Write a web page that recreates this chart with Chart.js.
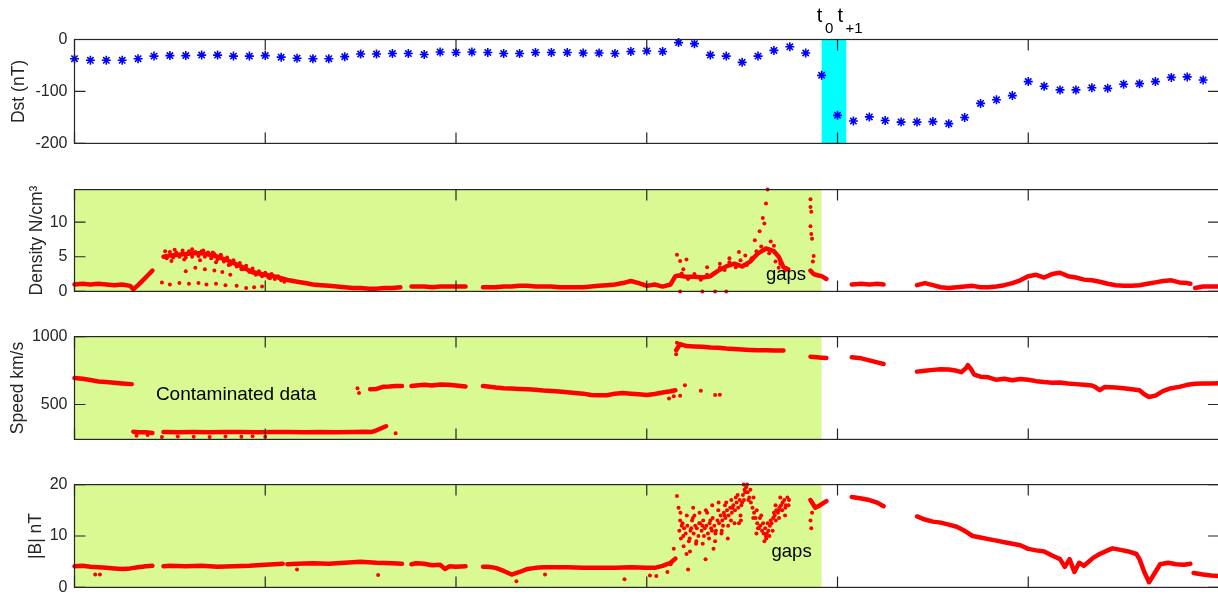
<!DOCTYPE html>
<html>
<head>
<meta charset="utf-8">
<script src="https://cdn.jsdelivr.net/npm/chart.js@4.4.1/dist/chart.umd.min.js"></script>
<style>
  html, body { margin: 0; padding: 0; background: #fff; overflow: hidden; width: 1218px; height: 594px; }
  canvas { position: absolute; left: 0; }
</style>
</head>
<body>
<canvas id="dst"></canvas>
<canvas id="dens"></canvas>
<canvas id="speed"></canvas>
<canvas id="bmag"></canvas>
<script>
// ---- data (hours from start of window) ----
const hourTicks = [0, 12, 24, 36, 48, 60, 72];

// hourly Dst, one value per hour starting at 0
const dstValues = [-37, -40, -40, -40, -37, -32, -31, -31, -30, -30, -32, -32, -31, -34, -36, -37, -37, -33, -28, -28, -27, -27,
  -29, -24, -25, -24, -25, -27, -27, -25, -25, -25, -26, -26, -27, -23, -22, -23, -6, -8, -30, -32, -44, -32, -21, -14, -26, -69,
  -146, -157, -149, -156, -159, -159, -158, -162, -150, -123, -116, -108, -81, -90, -97, -97, -93, -94, -86, -85, -81, -73, -72, -78];
const dstTicks = [-200, -100, 0];

// density, null = data gap
const densTime = [0, 0.5, 1, 1.5, 2, 2.5, 3, 3.5, 3.7, 4, 4.3, 4.6, 4.9, 5.2,
  5.6, 6, 6.5, 7, 7.5, 8, 8.5, 9, 9.5, 10, 10.5, 11, 11.5, 12, 12.5, 13, 13.5, 14, 14.5, 15, 15.5, 16, 16.5, 17, 17.5, 18, 18.5, 19, 19.5, 20, 20.5, 20.9,
  21.2, 21.5, 22, 22.5, 23, 23.5, 24, 24.6, 25.2,
  25.7, 26, 26.5, 27, 27.5, 28, 28.5, 29, 29.5, 30, 30.5, 31, 31.5, 32, 32.5, 33, 33.5, 34, 34.5, 35, 35.5, 36, 36.5, 37, 37.5, 37.8, 38, 38.5, 39, 39.5, 40, 40.5, 41, 41.5, 42, 42.5, 43, 43.5, 44, 44.3, 44.6, 44.9, 45.6,
  46.3, 46.5, 46.8, 47, 47.3, 48,
  48.9, 49.5, 50, 50.5, 50.9, 52,
  53, 53.5, 54, 54.5, 55, 55.5, 56, 56.5, 57, 57.5, 58, 58.5, 59, 59.5, 60, 60.5, 61, 61.5, 62, 62.5, 63, 63.5, 64, 64.5, 65, 65.5, 66, 66.5, 67, 67.5, 68, 68.5, 69, 69.5, 70, 70.2, 70.35,
  70.5, 71, 71.5, 72];
const densValue = [1.0, 1.1, 1.0, 1.1, 1.0, 0.9, 1.0, 0.8, 0.3, 0.9, 1.6, 2.3, 3.0, null,
  5.0, 5.2, 5.3, 5.4, 5.5, 5.5, 5.3, 5.0, 4.6, 4.1, 3.6, 3.0, 2.6, 2.4, 2.2, 1.9, 1.6, 1.4, 1.2, 1.0, 0.9, 0.8, 0.7, 0.6, 0.5, 0.5, 0.4, 0.4, 0.5, 0.5, 0.6, null,
  0.7, 0.7, 0.7, 0.6, 0.7, 0.7, 0.7, 0.7, null,
  0.6, 0.6, 0.6, 0.7, 0.7, 0.8, 0.8, 0.7, 0.7, 0.7, 0.6, 0.6, 0.6, 0.6, 0.7, 0.8, 0.9, 1.0, 1.2, 1.5, 1.2, 0.8, 1.0, 0.7, 1.0, 2.2, 2.3, 2.1, 2.1, 2.0, 2.2, 3.0, 3.6, 4.0, 3.6, 4.3, 5.5, 6.2, 5.8, 5.0, 3.5, 3.2, null,
  3.0, 2.5, 2.3, 2.2, 1.8, null,
  1.0, 1.1, 1.0, 1.1, 1.0, null,
  0.9, 1.2, 0.9, 0.6, 0.5, 0.6, 0.7, 0.8, 0.6, 0.6, 0.7, 0.9, 1.2, 1.6, 2.2, 2.4, 2.0, 2.5, 2.7, 2.2, 2.0, 1.7, 1.6, 1.4, 1.1, 0.9, 0.8, 0.8, 0.9, 1.1, 1.3, 1.5, 1.6, 1.3, 1.2, 1.1, null,
  0.5, 0.7, 0.7, 0.7];
const densSpreadTime = [5.5, 6, 6.6, 7.2, 7.8, 8.3, 8.9, 9.5, 10.2, 10.8, 11.3, 11.8,
  7.0, 7.6, 8.2, 8.8, 9.3, 9.8,
  5.7, 6.3, 6.8, 7.4, 8.1, 8.7, 9.2, 6.1, 6.9, 7.9, 8.9, 9.7, 10.5, 11.2, 12.3, 13.2,
  5.8, 6.0, 6.2, 6.4, 6.6, 6.8, 7.0, 7.2, 7.4, 7.6, 7.8, 8.0, 8.2, 8.4, 8.6, 8.8, 9.0, 9.2, 9.4, 9.6, 9.8,
  10.0, 10.2, 10.4, 10.6, 10.8, 11.0, 11.2, 11.4, 11.6, 11.8, 12.0, 12.2, 12.4, 12.6, 12.8, 13.0,
  37.9, 38.1, 38.5, 38.3, 38.1, 39.5, 40.3, 41.0,
  38.2, 38.6, 39.0, 39.4, 39.8, 40.2, 40.6, 40.9, 41.2, 41.6, 41.9, 42.3, 42.6, 42.9, 43.2, 43.7, 44.0, 44.4, 44.7,
  42.8, 43.1, 43.3, 43.5, 43.6, 43.4, 43.8, 41.8, 42.2, 44.1, 44.3, 39.8, 40.6, 41.2,
  46.3, 46.3, 46.35, 46.3, 46.35, 46.4, 46.5, 46.45];
const densSpreadValue = [1.3, 1.0, 1.2, 1.1, 1.2, 1.0, 1.1, 0.9, 0.8, 0.5, 0.6, 0.7,
  2.9, 3.4, 3.2, 3.0, 2.8, 2.4,
  5.8, 6.0, 5.9, 6.1, 5.9, 5.6, 5.2, 4.4, 4.6, 4.5, 4.2, 3.8, 3.2, 2.7, 1.9, 1.4,
  4.8, 5.7, 4.9, 5.6, 5.0, 5.5, 4.9, 5.8, 5.0, 5.7, 5.1, 5.8, 5.0, 5.6, 4.8, 5.4, 4.6, 5.3, 4.3, 4.9, 3.9,
  4.5, 3.6, 4.1, 3.2, 3.7, 2.8, 3.3, 2.4, 2.9, 2.2, 2.7, 2.0, 2.5, 1.8, 2.2, 1.6,
  5.3, 4.4, 4.6, 3.2, 0.0, 0.0, 0.0, 0.0,
  2.6, 1.8, 2.5, 1.7, 2.4, 2.6, 3.4, 3.1, 4.2, 3.5, 4.5, 3.8, 4.8, 5.8, 6.5, 5.5, 6.6, 4.0, 3.0,
  7.4, 8.7, 10.6, 12.7, 14.7, 9.8, 7.2, 5.7, 5.2, 4.3, 3.4, 3.5, 4.0, 4.8,
  13.3, 12.2, 11.5, 9.4, 8.3, 7.6, 5.1, 4.3];
const densTicks = [0, 5, 10];

// solar wind speed
const speedTime = [0, 0.5, 1, 1.5, 2, 2.5, 3, 3.6, 3.65,
  3.7, 4, 4.5, 4.9, 5.2,
  5.6, 6.5, 7.5, 8.5, 9.5, 10.5, 11.5, 12.5, 13.5, 14.5, 15.5, 16.5, 17.5, 18.3, 18.7, 18.9, 19.3, 19.6, 19.7,
  18.6, 19, 19.4, 19.8, 20.2, 20.6, 20.9,
  21.2, 21.5, 22, 22.5, 23, 23.5, 24, 24.6, 25.2,
  25.7, 26, 26.5, 27, 27.5, 28, 28.5, 29, 29.5, 30, 30.5, 31, 31.5, 32, 32.5, 33, 33.5, 34, 34.5, 35, 35.5, 36, 36.5, 37, 37.5, 37.8, 37.8,
  37.85, 38.1, 38.5, 39, 39.5, 40, 40.5, 41, 41.5, 42, 42.5, 43, 43.5, 44, 44.6, 45,
  46.3, 46.7, 47, 47.3, 48,
  48.9, 49.5, 50, 50.5, 50.9, 52,
  53, 53.5, 54, 54.5, 55, 55.5, 55.8, 56.1, 56.2, 56.4, 56.6, 57, 57.5, 58, 58.5, 59, 59.5, 60, 60.5, 61, 61.5, 62, 62.5, 63, 63.5, 64, 64.2, 64.5, 64.8, 65.5, 66, 66.5, 67, 67.3, 67.6, 68, 68.5, 69, 69.5, 70, 70.5, 71, 71.5, 72];
const speedValue = [695, 690, 680, 670, 665, 660, 655, 650, null,
  300, 295, 295, 290, null,
  297, 296, 297, 296, 297, 298, 296, 297, 298, 296, 297, 295, 297, 300, 298, 305, 325, 340, null,
  612, 615, 630, 632, 636, 636, null,
  636, 640, 645, 640, 648, 645, 640, 632, null,
  636, 632, 625, 620, 618, 615, 612, 608, 603, 600, 596, 590, 585, 580, 570, 568, 568, 580, 585, 580, 575, 570, 578, 588, 598, 605, null,
  900, 945, 930, 928, 925, 920, 918, 912, 908, 905, 902, 900, 900, 898, 898, null,
  852, 848, 845, 842, null,
  848, 840, 825, 810, 798, null,
  742, 748, 755, 760, 758, 748, 738, 770, 790, 760, 720, 705, 700, 682, 690, 678, 688, 682, 672, 665, 660, 662, 655, 650, 645, 640, 630, 605, 628, 625, 620, 612, 605, 575, 555, 565, 600, 620, 630, 645, 652, 655, 655, 656];
const speedSpreadTime = [3.9, 4.6, 5.5, 6.5, 7.5, 8.5, 9.5, 10.5, 11.2, 12, 17.8, 17.9, 20.2, 37.4, 37.7, 37.85, 37.9, 38.1, 38.4, 39.4, 40.3, 40.6];
const speedSpreadValue = [270, 275, 260, 265, 262, 260, 264, 262, 266, 262, 620, 585, 289, 545, 560, 870, 955, 565, 641, 601, 570, 572];
const speedTicks = [500, 1000];

// |B|
const bTime = [0, 0.5, 1, 1.5, 2, 2.5, 3, 3.5, 4, 4.5, 4.9, 5.2,
  5.6, 6, 7, 8, 9, 10, 11, 12, 13.1, 13.25,
  13.4, 14, 15, 16, 17, 18, 19, 20, 20.6, 20.9,
  21.2, 21.5, 22, 22.5, 23, 23.3, 23.6, 24, 24.6, 25.2,
  25.7, 26, 26.5, 27, 27.5, 28, 28.5, 29, 29.5, 30, 31, 32, 33, 34, 35, 36, 36.5, 37, 37.5, 37.8, 38,
  46.3, 46.6, 46.9, 47.3, 48,
  48.9, 49.5, 50, 50.5, 50.9, 52,
  53, 53.5, 54, 54.5, 55, 55.5, 56, 56.5, 57, 57.5, 58, 58.5, 59, 59.5, 60, 60.5, 61, 61.5, 62, 62.3, 62.6, 62.9, 63.2, 63.5, 63.8, 64.1, 64.5, 65, 65.3, 65.8, 66.3, 66.8, 67, 67.3, 67.6, 67.9, 68.3, 68.8, 69.3, 69.8, 70.2, 70.3,
  70.4, 71, 71.5, 72];
const bValue = [4.1, 4.2, 4.0, 3.9, 3.8, 3.7, 3.6, 3.7, 3.9, 4.1, 4.2, null,
  4.1, 4.2, 4.1, 4.2, 4.0, 4.1, 4.2, 4.4, 4.6, null,
  4.5, 4.6, 4.7, 4.6, 4.8, 5.0, 4.8, 4.7, 4.6, null,
  4.5, 4.7, 4.6, 4.3, 4.4, 3.6, 4.1, 4.0, 4.1, null,
  4.0, 4.0, 3.8, 3.2, 2.5, 3.0, 3.6, 3.8, 3.9, 3.9, 3.9, 3.8, 3.8, 3.8, 3.9, 3.8, 3.8, 4.2, 4.8, 5.6, null,
  17.0, 15.5, 16.0, 16.8, null,
  17.6, 17.3, 17.0, 16.5, 15.8, null,
  13.8, 13.2, 12.8, 12.6, 12.2, 11.8, 11.0, 10.0, 9.7, 9.4, 9.1, 8.8, 8.5, 8.2, 7.5, 7.2, 7.0, 6.2, 5.5, 4.0, 5.5, 3.0, 4.8, 4.2, 5.0, 5.8, 6.5, 7.2, 7.6, 7.3, 7.0, 6.5, 5.5, 3.0, 1.0, 2.5, 4.5, 4.8, 4.5, 4.4, 4.6, null,
  2.8, 2.5, 2.3, 2.2];
// scattered |B| samples, mostly the disturbed interval before t0
const bSpreadTime = [37.7, 37.9, 38.0, 38.1, 38.3, 38.5, 38.7, 38.9, 39.1, 39.3, 39.6, 39.8, 40.1, 40.3, 40.5, 40.8, 41.0, 41.3, 41.6, 41.9, 42.1, 42.4, 42.7, 42.9, 43.2, 43.5, 43.8, 44.1, 44.4, 44.7,
  38.6, 39.7, 40.2, 41.1, 43.4, 46.35, 46.3, 46.4,
  38.2, 38.8, 39.0, 39.5, 40.0, 40.7, 41.4, 41.8, 42.2, 43.0, 43.6, 44.0, 44.3, 42.0, 40.9,
  38.05, 38.15, 38.25, 38.35, 38.45, 38.55, 38.65, 38.75, 38.85, 38.95, 39.05, 39.15, 39.25, 39.35, 39.45, 39.55, 39.65, 39.75, 39.85, 39.95,
  40.05, 40.15, 40.25, 40.35, 40.45, 40.55, 40.65, 40.75, 40.85, 40.95, 41.05, 41.15, 41.25, 41.35, 41.45, 41.55, 41.65, 41.75, 41.85, 41.95,
  42.05, 42.15, 42.25, 42.35, 42.45, 42.55, 42.65, 42.75, 42.85, 42.95, 43.05, 43.15, 43.25, 43.35, 43.45, 43.55, 43.65, 43.75, 43.85, 43.95,
  44.05, 44.15, 44.25, 44.35, 44.45, 44.55, 44.65, 44.75, 44.85, 44.95,
  38.12, 38.32, 38.52, 38.72, 38.92, 39.12, 39.32, 39.52, 39.72, 39.92, 40.12, 40.32, 40.52, 40.72, 40.92, 41.12, 41.32, 41.52, 41.72, 41.92,
  42.12, 42.32, 42.52, 42.72, 42.92, 43.12, 43.32, 43.52, 43.72, 43.92, 44.12, 44.32, 44.52, 44.72, 44.92,
  1.3, 1.6, 14.0, 19.1, 27.8, 29.6, 34.6, 36.2, 36.6, 37.3, 37.5];
const bSpreadValue = [7.5, 17.8, 15.5, 13.0, 10.0, 6.5, 9.5, 13.5, 8.5, 12.5, 10.0, 14.5, 11.0, 9.0, 15.0, 12.0, 16.5, 13.0, 17.5, 14.0, 20.0, 17.0, 13.5, 10.5, 14.0, 10.0, 13.0, 16.0, 17.5, 14.0,
  3.5, 5.5, 7.5, 9.5, 9.0, 11.5, 13.0, 14.5,
  12.0, 11.5, 14.0, 12.0, 13.0, 10.5, 15.5, 12.5, 18.5, 11.5, 12.5, 14.5, 15.0, 16.5, 14.0,
  11.0, 9.5, 12.5, 11.5, 10.5, 12.0, 9.0, 11.0, 13.0, 10.5, 12.0, 11.5, 10.0, 12.5, 11.0, 13.0, 11.5, 12.0, 10.5, 12.5,
  11.5, 13.5, 12.0, 11.0, 13.0, 12.5, 14.0, 13.0, 14.5, 13.5, 15.0, 14.0, 15.5, 14.5, 16.0, 15.0, 16.5, 15.5, 17.0, 16.0,
  18.0, 19.0, 19.5, 18.5, 17.5, 16.5, 15.5, 14.5, 13.5, 12.5, 11.5, 12.0, 11.0, 10.5, 11.5, 10.5, 11.0, 12.0, 12.5, 13.5,
  14.0, 15.0, 14.5, 15.5, 16.0, 16.5, 17.0, 16.0, 17.5, 17.0,
  14.5, 8.0, 14.0, 7.0, 15.5, 9.0, 14.5, 8.5, 15.0, 9.5, 16.0, 10.5, 16.5, 11.0, 16.0, 12.0, 17.0, 12.5, 18.0, 13.0,
  17.0, 20.0, 19.0, 17.5, 15.0, 13.5, 12.5, 9.5, 10.0, 11.0, 13.0, 13.5, 15.0, 15.5, 16.0,
  2.5, 2.5, 3.5, 2.4, 1.2, 2.5, 1.6, 2.3, 2.2, 3.0, 4.5];
const bTicks = [0, 10, 20];

// hours: t0 -> t+1 storm onset window, and end of contaminated interval
const onsetStart = 47, onsetEnd = 48.55;
const contaminatedEnd = 47;

// ---- layout ----
const FONT = "'Liberation Sans', Arial, sans-serif";
const AXIS = '#262626';
const plotH = 106.5;
const panelTops = [39.5, 187.2, 334.9, 482.6];

const pairs = (ts, vs) => ts.map((t, i) => ({ x: t, y: vs[i] }));

const framePlugin = {
  id: 'frame',
  beforeDatasetsDraw(chart, args, opts) {
    const { ctx, chartArea: a, scales: { x } } = chart;
    (opts.bands || []).forEach(b => {
      const x0 = x.getPixelForValue(b.from), x1 = x.getPixelForValue(b.to);
      ctx.fillStyle = b.color;
      ctx.fillRect(x0, a.top, x1 - x0, a.bottom - a.top);
    });
  },
  afterDraw(chart, args, opts) {
    const { ctx, chartArea: a, scales: { x, y } } = chart;
    ctx.save();
    ctx.strokeStyle = AXIS;
    ctx.lineWidth = 1.2;
    ctx.strokeRect(a.left, a.top, a.right - a.left, a.bottom - a.top);
    ctx.beginPath();
    hourTicks.forEach(h => {
      const px = x.getPixelForValue(h);
      ctx.moveTo(px, a.top); ctx.lineTo(px, a.top + 11);
      ctx.moveTo(px, a.bottom); ctx.lineTo(px, a.bottom - 11);
    });
    y.ticks.forEach(t => {
      const py = y.getPixelForValue(t.value);
      ctx.moveTo(a.left, py); ctx.lineTo(a.left + 11, py);
      ctx.moveTo(a.right, py); ctx.lineTo(a.right - 11, py);
    });
    ctx.stroke();

    ctx.fillStyle = '#000';
    ctx.textBaseline = 'alphabetic';
    (opts.notes || []).forEach(n => {
      ctx.font = n.size + 'px ' + FONT;
      ctx.fillText(n.text, x.getPixelForValue(n.x), y.getPixelForValue(n.y));
    });
    // t0 / t+1 markers above the Dst panel
    (opts.steps || []).forEach(s => {
      const px = x.getPixelForValue(s.x);
      ctx.font = '20px ' + FONT;
      ctx.fillText('t', px, a.top - 18);
      const w = ctx.measureText('t').width;
      ctx.font = '15px ' + FONT;
      ctx.fillText(s.sub, px + w + 2.5, a.top - 6.5);
    });
    ctx.restore();
  }
};

function makePanel(id, k, cfg) {
  const top = panelTops[k];
  const canvasTop = k === 0 ? 0 : Math.floor(top) - 14;
  const padTop = top - canvasTop;
  const height = Math.ceil(padTop + plotH + 14);
  const cv = document.getElementById(id);
  cv.width = 1220;
  cv.height = height;
  cv.style.top = canvasTop + 'px';

  new Chart(cv, {
    type: 'line',
    data: { datasets: cfg.datasets },
    plugins: [framePlugin],
    options: {
      responsive: false,
      animation: false,
      devicePixelRatio: 1,
      layout: { autoPadding: false, padding: { top: padTop, bottom: height - padTop - plotH, left: 0, right: 1 } },
      scales: {
        x: { type: 'linear', min: 0, max: 72, display: false },
        y: {
          type: 'linear',
          min: cfg.min,
          max: cfg.max,
          afterBuildTicks: s => { s.ticks = cfg.ticks.map(v => ({ value: v })); },
          afterFit: s => { s.width = 74.5; },
          grid: { display: false, drawTicks: false },
          border: { display: false },
          ticks: {
            color: AXIS,
            padding: 7,
            font: { family: FONT, size: 16 },
            callback: v => String(v)
          },
          title: {
            display: true,
            text: cfg.title,
            color: AXIS,
            font: { family: FONT, size: 17.5 },
            padding: { top: cfg.titlePad, bottom: 0 }
          }
        }
      },
      plugins: {
        legend: { display: false },
        tooltip: { enabled: false },
        frame: { bands: cfg.bands, notes: cfg.notes, steps: cfg.steps }
      }
    }
  });
}

const redLine = (data) => ({
  data, borderColor: '#ff0000', borderWidth: 4.5, pointRadius: 0,
  borderCapStyle: 'round', borderJoinStyle: 'round', spanGaps: false, tension: 0, clip: 3
});
const redDots = (data) => ({
  type: 'scatter', data, showLine: false, pointRadius: 2, pointBorderWidth: 0,
  pointBackgroundColor: '#ff0000', borderColor: '#ff0000', clip: 3
});
const contaminated = [{ from: 0, to: contaminatedEnd, color: '#d9f992' }];

makePanel('dst', 0, {
  title: 'Dst (nT)', titlePad: 9, min: -200, max: 0, ticks: dstTicks,
  bands: [{ from: onsetStart, to: onsetEnd, color: '#00ffff' }],
  steps: [{ x: 46.7, sub: '0' }, { x: 48.0, sub: '+1' }],
  datasets: [{
    type: 'scatter',
    data: dstValues.map((v, i) => ({ x: i, y: v })),
    pointStyle: 'star', pointRadius: 4.5, pointBorderWidth: 1.6,
    borderColor: '#0000ff', pointBorderColor: '#0000ff', showLine: false, clip: false
  }]
});

makePanel('dens', 1, {
  title: 'Density N/cm³', titlePad: 27, min: 0, max: 14.7, ticks: densTicks,
  bands: contaminated,
  notes: [{ text: 'gaps', x: 43.5, y: 1.6, size: 18.5 }],
  datasets: [redLine(pairs(densTime, densValue)), redDots(pairs(densSpreadTime, densSpreadValue))]
});

makePanel('speed', 2, {
  title: 'Speed km/s', titlePad: 7.5, min: 243, max: 1000, ticks: speedTicks,
  bands: contaminated,
  notes: [{ text: 'Contaminated data', x: 5.12, y: 530, size: 19 }],
  datasets: [redLine(pairs(speedTime, speedValue)), redDots(pairs(speedSpreadTime, speedSpreadValue))]
});

makePanel('bmag', 3, {
  title: '|B| nT', titlePad: 26, min: 0, max: 20, ticks: bTicks,
  bands: contaminated,
  notes: [{ text: 'gaps', x: 43.85, y: 6.0, size: 18.5 }],
  datasets: [redLine(pairs(bTime, bValue)), redDots(pairs(bSpreadTime, bSpreadValue))]
});
</script>
</body>
</html>
